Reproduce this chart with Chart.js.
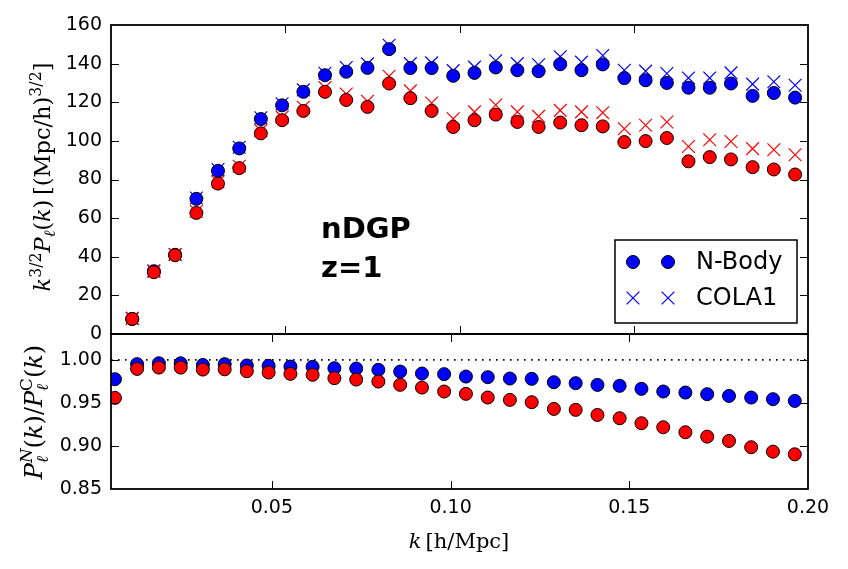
<!DOCTYPE html>
<html>
<head>
<meta charset="utf-8">
<script src="https://cdn.jsdelivr.net/npm/chart.js@4.4.0/dist/chart.umd.min.js"></script>
<style>
  html, body { margin: 0; padding: 0; background: #fff; }
  #wrap { position: relative; width: 848px; height: 569px; }
  #wrap canvas { position: absolute; left: 0; top: 0; }
</style>
</head>
<body>
<div id="wrap">
  <canvas id="ratioChart" width="848" height="569"></canvas>
  <canvas id="powerChart" width="848" height="569"></canvas>
</div>
<script>
// k bins [h/Mpc]
const kValues = [0.0061, 0.0123, 0.0184, 0.0245, 0.0307, 0.0368, 0.0430, 0.0491,
  0.0552, 0.0614, 0.0675, 0.0736, 0.0798, 0.0859, 0.0920, 0.0982,
  0.1043, 0.1104, 0.1166, 0.1227, 0.1289, 0.1350, 0.1411, 0.1473,
  0.1534, 0.1595, 0.1657, 0.1718, 0.1779, 0.1841, 0.1902, 0.1963];

// k^{3/2} P_l(k), blue set
const nbodyBlue = [7.8, 32.5, 41.0, 70.0, 84.5, 96.1, 111.3, 118.4,
  125.4, 134.0, 135.8, 137.8, 147.5, 137.7, 137.7, 133.7,
  135.2, 138.0, 136.6, 136.1, 139.7, 136.6, 139.6, 132.5,
  131.4, 130.0, 127.5, 127.5, 129.7, 123.3, 124.8, 122.4];
const colaBlue = [8.1, 32.7, 41.2, 70.4, 85.2, 96.7, 112.0, 119.2,
  126.4, 135.0, 138.0, 139.9, 149.5, 140.0, 140.4, 136.4,
  138.2, 141.5, 140.0, 139.4, 143.6, 140.8, 144.2, 136.6,
  136.1, 134.9, 132.6, 132.6, 135.2, 129.4, 130.6, 128.8];

// red set
const nbodyRed = [7.8, 32.0, 40.8, 62.7, 77.9, 85.9, 103.9, 110.7,
  115.5, 125.4, 121.2, 117.6, 129.7, 122.1, 115.5, 107.2,
  110.7, 113.6, 109.8, 107.2, 109.5, 108.1, 107.5, 99.4,
  99.9, 101.5, 89.4, 91.6, 90.4, 86.4, 85.2, 82.6];
const colaRed = [8.1, 32.4, 41.2, 63.4, 78.8, 86.9, 105.3, 112.3,
  117.4, 127.6, 124.3, 120.5, 133.5, 125.9, 119.6, 111.5,
  115.0, 118.6, 115.0, 112.7, 115.8, 115.0, 114.6, 106.3,
  108.1, 109.8, 97.1, 100.6, 99.7, 96.0, 95.4, 92.8];

// N-Body / COLA ratios
const ratioBlue = [0.9775, 0.995, 0.996, 0.996, 0.994, 0.995, 0.9934, 0.993,
  0.9922, 0.9919, 0.9903, 0.9899, 0.9884, 0.9864, 0.9841, 0.9834,
  0.9806, 0.9799, 0.9783, 0.9779, 0.974, 0.9729, 0.9709, 0.9698,
  0.9663, 0.9632, 0.962, 0.9601, 0.9581, 0.9562, 0.9543, 0.9523];
const ratioRed = [0.9558, 0.9895, 0.991, 0.991, 0.9887, 0.989, 0.9868, 0.9853,
  0.9837, 0.9826, 0.9787, 0.9771, 0.9748, 0.971, 0.9678, 0.9632,
  0.9605, 0.9562, 0.9535, 0.9508, 0.943, 0.9419, 0.936, 0.9322,
  0.9264, 0.9217, 0.9159, 0.9108, 0.9058, 0.8985, 0.8934, 0.8903];

const powerTicks = [0, 20, 40, 60, 80, 100, 120, 140, 160];
const ratioTicks = [0.85, 0.90, 0.95, 1.00];
const kTicks = [0.05, 0.10, 0.15, 0.20];
const legendLabels = ['N-Body', 'COLA1'];
const modelLabel = 'nDGP';
const redshiftLabel = 'z=1';

const BLUE = '#0000ff';
const RED = '#ff0000';
const SANS = '"DejaVu Sans", sans-serif';
const SERIF = '"DejaVu Serif", serif';

const toPoints = (ys) => kValues.map((k, i) => ({ x: k, y: ys[i] }));

const circleSet = (label, ys, color, order) => ({
  label, order, data: toPoints(ys),
  pointStyle: 'circle', pointRadius: 6.5, pointHoverRadius: 6.5,
  pointBackgroundColor: color, pointBorderColor: '#000', pointBorderWidth: 1
});

const crossSet = (label, ys, color, order) => ({
  label, order, data: toPoints(ys),
  pointStyle: 'crossRot', pointRadius: 9, pointHoverRadius: 9,
  pointBackgroundColor: color, pointBorderColor: color, pointBorderWidth: 1.2
});

// draws a mixed italic / roman label with super- and subscripts
const drawMath = (ctx, parts, size, x, y, rotated) => {
  const fontOf = (p) => (p.i ? 'italic ' : '') + (p.s ? size * 0.7 : size) + 'px ' + SERIF;
  let total = 0;
  parts.forEach(p => { ctx.font = fontOf(p); if (!p.keep) total += ctx.measureText(p.t).width; });
  ctx.save();
  ctx.translate(x, y);
  if (rotated) ctx.rotate(-Math.PI / 2);
  ctx.fillStyle = '#000';
  ctx.textBaseline = 'alphabetic';
  ctx.textAlign = 'left';
  let cx = -total / 2;
  parts.forEach(p => {
    ctx.font = fontOf(p);
    const dy = p.s === 1 ? -size * 0.42 : p.s === -1 ? size * 0.24 : 0;
    ctx.fillText(p.t, cx, dy);
    if (!p.keep) cx += ctx.measureText(p.t).width;
  });
  ctx.restore();
};

// axes box with inward ticks on all four sides
const framePlugin = {
  id: 'frame',
  afterDraw(chart, args, opts) {
    const { ctx, chartArea: a, scales } = chart;
    const len = 8;
    ctx.save();
    ctx.strokeStyle = '#000';
    ctx.lineWidth = 1;
    ctx.beginPath();
    opts.xTicks.forEach(v => {
      const x = Math.round(scales.x.getPixelForValue(v)) + 0.5;
      if (x <= a.left + 2 || x >= a.right - 2) return;
      ctx.moveTo(x, a.top); ctx.lineTo(x, a.top + len);
      ctx.moveTo(x, a.bottom); ctx.lineTo(x, a.bottom - len);
    });
    opts.yTicks.forEach(v => {
      const y = Math.round(scales.y.getPixelForValue(v)) + 0.5;
      if (y <= a.top + 2 || y >= a.bottom - 2) return;
      ctx.moveTo(a.left, y); ctx.lineTo(a.left + len, y);
      ctx.moveTo(a.right, y); ctx.lineTo(a.right - len, y);
    });
    ctx.stroke();
    ctx.lineWidth = 1.8;
    ctx.strokeRect(a.left, a.top, a.right - a.left, a.bottom - a.top);
    ctx.restore();
    if (opts.extra) opts.extra(chart);
  }
};

const yScale = (min, max, ticks, fmt) => ({
  type: 'linear', min, max,
  afterFit: (s) => { s.width = 111; },
  afterBuildTicks: (s) => { s.ticks = ticks.map(v => ({ value: v })); },
  grid: { display: false, drawTicks: false },
  border: { display: false },
  ticks: { padding: 9, color: '#000', font: { family: SANS, size: 19 }, callback: fmt }
});

// top panel annotations and legend
const drawTopExtras = (chart) => {
  const ctx = chart.ctx;
  ctx.save();
  ctx.fillStyle = '#000';
  ctx.font = 'bold 29px ' + SANS;
  ctx.textAlign = 'left';
  ctx.textBaseline = 'alphabetic';
  ctx.fillText(modelLabel, 321, 238);
  ctx.fillText(redshiftLabel, 321, 277);

  // legend
  ctx.fillStyle = '#fff';
  ctx.fillRect(615, 240, 182, 83);
  ctx.strokeStyle = '#000';
  ctx.lineWidth = 1.5;
  ctx.strokeRect(615, 240, 182, 83);
  const rows = [262, 298];
  [633, 668].forEach(mx => {
    ctx.beginPath();
    ctx.arc(mx, rows[0], 6.5, 0, Math.PI * 2);
    ctx.fillStyle = BLUE;
    ctx.fill();
    ctx.lineWidth = 1;
    ctx.strokeStyle = '#000';
    ctx.stroke();
    const d = 9 * Math.SQRT1_2;
    ctx.beginPath();
    ctx.moveTo(mx - d, rows[1] - d); ctx.lineTo(mx + d, rows[1] + d);
    ctx.moveTo(mx - d, rows[1] + d); ctx.lineTo(mx + d, rows[1] - d);
    ctx.strokeStyle = BLUE;
    ctx.lineWidth = 1.2;
    ctx.stroke();
  });
  ctx.fillStyle = '#000';
  ctx.font = '24px ' + SANS;
  ctx.textBaseline = 'middle';
  legendLabels.forEach((t, i) => ctx.fillText(t, 696, rows[i] + 1));
  ctx.restore();

  drawMath(ctx, [
    { t: 'k', i: true }, { t: '3/2', s: 1 }, { t: 'P', i: true }, { t: 'ℓ', i: true, s: -1 },
    { t: '(' }, { t: 'k', i: true }, { t: ')\u2009[(Mpc/h)' }, { t: '3/2', s: 1 }, { t: ']' }
  ], 22.5, 50, 177, true);
};

const drawBottomExtras = (chart) => {
  const ctx = chart.ctx;
  drawMath(ctx, [
    { t: 'P', i: true }, { t: 'ℓ', i: true, s: -1, keep: true }, { t: 'N', i: true, s: 1 },
    { t: '(' }, { t: 'k', i: true }, { t: ')/' },
    { t: 'P', i: true }, { t: 'ℓ', i: true, s: -1, keep: true }, { t: 'C', s: 1 },
    { t: '(' }, { t: 'k', i: true }, { t: ')' }
  ], 24, 42, 412, true);
  drawMath(ctx, [{ t: 'k', i: true }, { t: '\u2009[h/Mpc]' }], 21, 459, 548, false);
};

const powerChart = new Chart(document.getElementById('powerChart'), {
  type: 'scatter',
  data: {
    datasets: [
      circleSet('N-Body', nbodyRed, RED, 0),
      crossSet('COLA1', colaRed, RED, 1),
      circleSet('N-Body', nbodyBlue, BLUE, 2),
      crossSet('COLA1', colaBlue, BLUE, 3)
    ]
  },
  options: {
    responsive: false,
    animation: false,
    events: [],
    layout: { padding: { left: 0, right: 40, top: 25, bottom: 235 } },
    scales: {
      x: { type: 'linear', min: 0, max: 0.2, display: false },
      y: yScale(0, 160, powerTicks, (v) => String(Math.round(v)))
    },
    plugins: {
      legend: { display: false },
      tooltip: { enabled: false },
      frame: { xTicks: kTicks, yTicks: powerTicks, extra: drawTopExtras }
    }
  },
  plugins: [framePlugin]
});

const ratioChart = new Chart(document.getElementById('ratioChart'), {
  type: 'scatter',
  data: {
    datasets: [
      circleSet('red', ratioRed, RED, 0),
      circleSet('blue', ratioBlue, BLUE, 1),
      {
        type: 'line', label: 'unity', order: 2,
        data: [{ x: 0.005, y: 1 }, { x: 0.2, y: 1 }],
        borderColor: '#000', borderWidth: 1.6, borderDash: [1.6, 5.4],
        pointRadius: 0, fill: false
      }
    ]
  },
  options: {
    responsive: false,
    animation: false,
    events: [],
    layout: { padding: { left: 0, right: 40, top: 334, bottom: 0 } },
    scales: {
      x: {
        type: 'linear', min: 0.005, max: 0.2,
        afterFit: (s) => { s.height = 80; },
        afterBuildTicks: (s) => { s.ticks = kTicks.map(v => ({ value: v })); },
        grid: { display: false, drawTicks: false },
        border: { display: false },
        ticks: { padding: 8, color: '#000', maxRotation: 0, autoSkip: false,
          font: { family: SANS, size: 19 }, callback: (v) => Number(v).toFixed(2) }
      },
      y: yScale(0.85, 1.03, ratioTicks, (v) => Number(v).toFixed(2))
    },
    plugins: {
      legend: { display: false },
      tooltip: { enabled: false },
      frame: { xTicks: kTicks, yTicks: ratioTicks, extra: drawBottomExtras }
    }
  },
  plugins: [framePlugin]
});
</script>
</body>
</html>
